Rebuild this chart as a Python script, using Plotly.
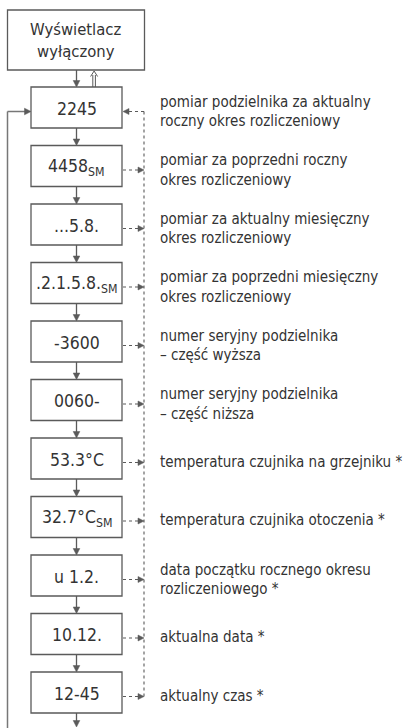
import plotly.graph_objects as go

# ---- data ----
top_box_lines = ["Wyświetlacz", "wyłączony"]
display_values = ["2245", "4458<sub>SM</sub>", "...5.8.", ".2.1.5.8.<sub>SM</sub>", "-3600",
                  "0060-", "53.3°C", "32.7°C<sub>SM</sub>", "u 1.2.", "10.12.", "12-45"]
descriptions = [
    ["pomiar podzielnika za aktualny", "roczny okres rozliczeniowy"],
    ["pomiar za poprzedni roczny", "okres rozliczeniowy"],
    ["pomiar za aktualny miesięczny", "okres rozliczeniowy"],
    ["pomiar za poprzedni miesięczny", "okres rozliczeniowy"],
    ["numer seryjny podzielnika", "– część wyższa"],
    ["numer seryjny podzielnika", "– część niższa"],
    ["temperatura czujnika na grzejniku *"],
    ["temperatura czujnika otoczenia *"],
    ["data początku rocznego okresu", "rozliczeniowego *"],
    ["aktualna data *"],
    ["aktualny czas *"],
]

# ---- layout constants ----
W, H = 411, 728
FONT = "DejaVu Sans Condensed, Liberation Sans Narrow, sans-serif"
LINE = "#5a5a5a"
TXT = "#333333"
BX0, BX1 = 31, 122
BCX = (BX0 + BX1) / 2
BOX_TOP0, PITCH, BOX_H = 87, 58.5, 41
DASH_X = 144
LOOP_X = 7.5
LABEL_X = 158

shapes = []
annotations = []


def line(x0, y0, x1, y1, dash="solid", width=1.3, color=LINE):
    shapes.append(dict(type="line", x0=x0, y0=y0, x1=x1, y1=y1, xref="x", yref="y",
                       line=dict(color=color, width=width, dash=dash)))


def head(x, y, direction, size=6.5, half=3.3, fill=LINE):
    if direction == "down":
        p = f"M {x},{y} L {x-half},{y-size} L {x+half},{y-size} Z"
    elif direction == "right":
        p = f"M {x},{y} L {x-size},{y-half} L {x-size},{y+half} Z"
    elif direction == "left":
        p = f"M {x},{y} L {x+size},{y-half} L {x+size},{y+half} Z"
    else:
        p = f"M {x},{y} L {x-half},{y+size} L {x+half},{y+size} Z"
    shapes.append(dict(type="path", path=p, xref="x", yref="y", fillcolor=fill,
                       line=dict(color=fill, width=0.5)))


def text(x, y, s, size=15, anchor="center"):
    annotations.append(dict(x=x, y=y, xref="x", yref="y", text=s, showarrow=False,
                            xanchor=anchor, yanchor="middle",
                            font=dict(family=FONT, size=size, color=TXT)))


# top box
shapes.append(dict(type="rect", x0=7.5, x1=144.5, y0=10, y1=70, xref="x", yref="y",
                   line=dict(color=LINE, width=1.3), fillcolor="white"))
text((7.5 + 144.5) / 2, 29, top_box_lines[0], size=16.5)
text((7.5 + 144.5) / 2, 51, top_box_lines[1], size=16.5)

# arrows between top box and first box
line(BCX, 70, BCX, BOX_TOP0 - 1)
head(BCX, BOX_TOP0, "down")
line(92.8, BOX_TOP0, 92.8, 75, width=1)
line(95.4, BOX_TOP0, 95.4, 75, width=1)
shapes.append(dict(type="path", path="M 90.6,76.5 L 94.1,71 L 97.6,76.5", xref="x", yref="y",
                   line=dict(color=LINE, width=1)))

n = len(display_values)
for i in range(n):
    top = BOX_TOP0 + i * PITCH
    bot = top + BOX_H
    cy = top + BOX_H / 2
    shapes.append(dict(type="rect", x0=BX0, x1=BX1, y0=top, y1=bot, xref="x", yref="y",
                       line=dict(color=LINE, width=1.3), fillcolor="white"))
    text(BCX, cy + 1, display_values[i], size=17.5)
    # solid arrow to next
    nxt = top + PITCH if i < n - 1 else H - 1
    line(BCX, bot, BCX, nxt - 2)
    head(BCX, nxt, "down")
    # dashed arrows
    ay = cy + 4
    if i == 0:
        line(DASH_X, ay, BX1 + 5, ay, dash="3px,3px", width=1.1)
        head(BX1 + 1, ay, "left", size=6, half=3)
    else:
        line(BX1 + 1, ay, DASH_X - 5, ay, dash="3px,3px", width=1.1)
        head(DASH_X, ay, "right", size=6, half=3)
    # description
    d = descriptions[i]
    if len(d) == 1:
        text(LABEL_X, ay - 1, d[0], anchor="left")
    else:
        text(LABEL_X, ay - 10, d[0], anchor="left")
        text(LABEL_X, ay + 9.5, d[1], anchor="left")

# dashed vertical line
first_ay = BOX_TOP0 + BOX_H / 2 + 4
last_ay = BOX_TOP0 + (n - 1) * PITCH + BOX_H / 2 + 4
line(DASH_X, first_ay, DASH_X, last_ay, dash="3px,3px", width=1.1)

# loop back line on the left
line(LOOP_X, H, LOOP_X, first_ay, width=1.5, color="#777777")
line(LOOP_X, first_ay, BX0 - 5, first_ay, width=1.5, color="#777777")
head(BX0, first_ay, "right", size=6.5, half=3.3)

fig = go.Figure()
fig.update_layout(
    width=W, height=H, margin=dict(l=0, r=0, t=0, b=0),
    paper_bgcolor="white", plot_bgcolor="white",
    xaxis=dict(range=[0, W], visible=False, fixedrange=True),
    yaxis=dict(range=[H, 0], visible=False, fixedrange=True),
    shapes=shapes, annotations=annotations, showlegend=False,
)
fig.write_html("out.html", config={"displayModeBar": False},
               post_script="document.body.style.margin='0';document.body.style.overflow='hidden';")
